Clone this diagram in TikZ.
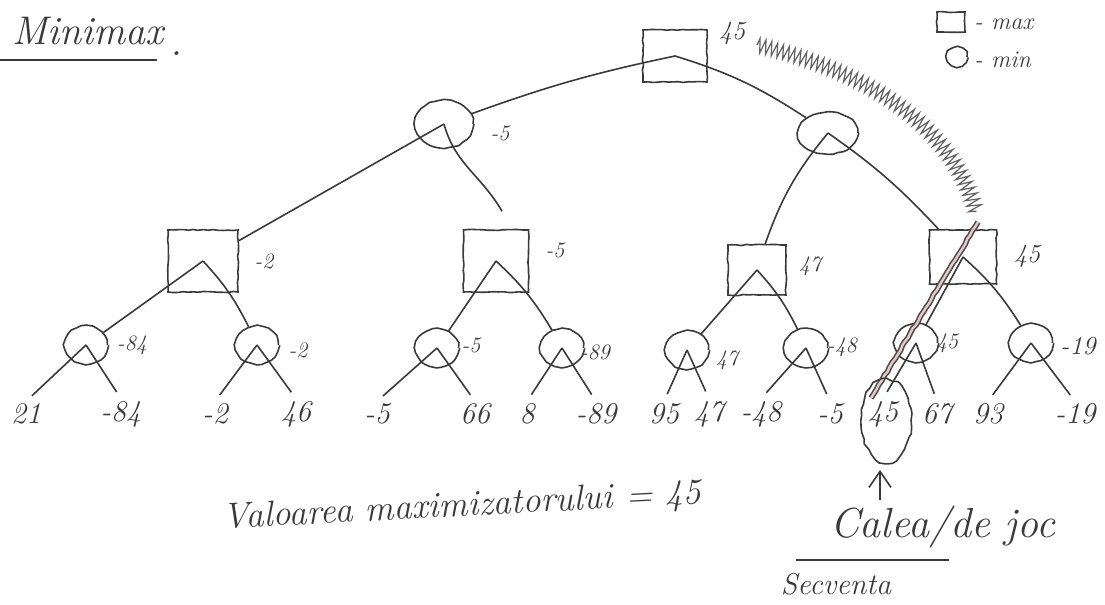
\documentclass[tikz,border=0pt]{standalone}
\usetikzlibrary{shapes.geometric,decorations.pathmorphing,arrows.meta,calc}
\definecolor{ink}{HTML}{3A3A3A}
\definecolor{trace}{HTML}{5E4444}
\begin{document}
\pgfmathsetseed{11}
\begin{tikzpicture}[x=0.5pt,y=-0.5pt,
  hand/.style={decorate,decoration={random steps,segment length=2.5pt,amplitude=0.3pt}},
  maxbox/.style={draw=ink,line width=0.8pt,rectangle,inner sep=0pt,hand},
  minbox/.style={draw=ink,line width=0.8pt,ellipse,inner sep=0pt,hand},
  leafmin/.style={minbox,minimum width=21.5pt,minimum height=19pt},
  link/.style={draw=ink,line width=0.8pt},
  leaflink/.style={link,shorten >=4pt},
  val/.style={text=ink,font=\fontsize{11}{13}\selectfont\itshape,inner sep=1pt},
  leaf/.style={text=ink,font=\fontsize{15}{18}\selectfont\itshape,inner sep=1pt},
  note/.style={text=ink,inner sep=1pt}]
\useasboundingbox (0,0) rectangle (1105,605);

% title
\node[note,font=\fontsize{20}{24}\selectfont\itshape,anchor=base west] (title) at (10,45) {Minimax};
\node[note,font=\fontsize{20}{24}\selectfont\itshape,anchor=base west] (dot) at (168,55) {.};
\draw[ink,line width=0.8pt] (0,60) -- (157,60);

% legend
\node[maxbox,minimum width=14pt,minimum height=10pt] (kmax) at (951,22) {};
\node[note,font=\fontsize{12}{14}\selectfont\itshape,anchor=west] (kmaxt) at (972,24) {- max};
\node[minbox,minimum width=10pt,minimum height=9.5pt] (kmin) at (957,57) {};
\node[note,font=\fontsize{12}{14}\selectfont\itshape,anchor=west] (kmint) at (972,60) {- min};

% root (max)
\node[maxbox,minimum width=32pt,minimum height=26pt] (R) at (675,56) {};
\node[val,font=\fontsize{13}{15}\selectfont\itshape] (Rv) at (732,33) {45};

% level 1 (min)
\node[minbox,minimum width=29pt,minimum height=24pt] (A) at (444,124) {};
\node[val] (Av) at (500,133) {-5};
\node[minbox,minimum width=30pt,minimum height=21pt] (B) at (828,133) {};

% level 2 (max)
\node[maxbox,minimum width=35pt,minimum height=31pt] (C1) at (203,261) {};
\node[val] (C1v) at (264,261) {-2};
\node[maxbox,minimum width=32.5pt,minimum height=31pt] (C2) at (496,261) {};
\node[val] (C2v) at (555,250) {-5};
\node[maxbox,minimum width=29pt,minimum height=25pt] (C3) at (757,270) {};
\node[val] (C3v) at (810,266) {47};
\node[maxbox,minimum width=33.5pt,minimum height=27pt] (C4) at (963,257) {};
\node[val,font=\fontsize{13}{15}\selectfont\itshape] (C4v) at (1027,256) {45};

% level 3 (min)
\node[leafmin] (D1) at (86,345) {};
\node[val] (D1v) at (132,345) {-84};
\node[leafmin] (D2) at (257,345) {};
\node[val] (D2v) at (298,350) {-2};
\node[leafmin] (D3) at (437,348) {};
\node[val] (D3v) at (471,345) {-5};
\node[leafmin] (D4) at (562,348) {};
\node[val] (D4v) at (595,352) {-89};
\node[leafmin] (D5) at (687,350) {};
\node[val] (D5v) at (727,360) {47};
\node[leafmin] (D6) at (806,348) {};
\node[val] (D6v) at (842,347) {-48};
\node[leafmin] (D7) at (916,343) {};
\node[val] (D7v) at (947,343) {45};
\node[leafmin] (D8) at (1031,343) {};
\node[val,font=\fontsize{13}{15}\selectfont\itshape] (D8v) at (1078,346) {-19};

% leaves
\foreach \n/\x/\t in {1/26/21,2/121/-84,3/215/-2,4/296/46,5/377/-5,6/475/66,7/527/8,8/596/-89,
  9/664/95,10/709/47,11/761/-48,12/830/-5,13/883/45,14/937/67,15/988/93,16/1075/-19}
  \node[leaf] (L\n) at (\x,414) {\t};

% connectors
\draw[link] (R.center) to[bend right=4] (A);
\draw[link] (R.center) to[bend left=8] (B);
\draw[link] (A.center) -- (C1);
\coordinate (Astop) at ($(C2.north)+(6,-18)$);
\draw[link] (A.center) to[out=-75,in=120] (Astop);
\draw[link] (B.center) to[bend right=10] (C3);
\draw[link] (B.center) to[bend left=6] (C4);
\foreach \p/\a/\b in {C1/D1/D2,C2/D3/D4,C3/D5/D6,C4/D7/D8}{
  \draw[link] (\p.center) -- (\a);
  \draw[link] (\p.center) to[bend left=8] (\b);
}
\foreach \p/\a/\b in {D1/L1/L2,D2/L3/L4,D3/L5/L6,D4/L7/L8,D5/L9/L10,D6/L11/L12,D7/L13/L14,D8/L15/L16}{
  \draw[leaflink] (\p.center) -- (\a.north);
  \draw[leaflink] (\p.center) -- (\b.north);
}

% marked path of play
\coordinate (z0) at (757,45);
\coordinate (z1) at (976,212);
\draw[ink!80,line width=0.6pt,decorate,decoration={zigzag,segment length=3pt,amplitude=3.5pt}]
  (z0) .. controls (860,70) and (950,120) .. (z1);
\coordinate (h0) at (978,222);
\coordinate (h1) at (871,398);
\draw[trace,line width=0.8pt,double=trace!25,double distance=1.2pt,hand] (h0) -- (h1);
\draw[ink,line width=0.8pt,decorate,decoration={random steps,segment length=3pt,amplitude=0.8pt}]
  ($(L13)+(3,7)$) ellipse [x radius=12.5pt,y radius=21pt];
\coordinate (arrowfoot) at (880,500);
\coordinate (arrowtip) at (880,470);
\draw[ink,line width=0.8pt,-{Straight Barb[length=8pt,width=11pt]}] (arrowfoot) -- (arrowtip);

% notes
\node[note,font=\fontsize{18}{22}\selectfont\itshape,rotate=3] (summary) at (462,507) {Valoarea maximizatorului = 45};
\node[note,font=\fontsize{21}{25}\selectfont\itshape,anchor=base west] (calea) at (828,537) {Calea/de joc};
\draw[ink,line width=0.8pt] (796,560) -- (949,560);
\node[note,font=\fontsize{15}{17}\selectfont\itshape] (secv) at (836,584) {Secventa};
\end{tikzpicture}
\end{document}
